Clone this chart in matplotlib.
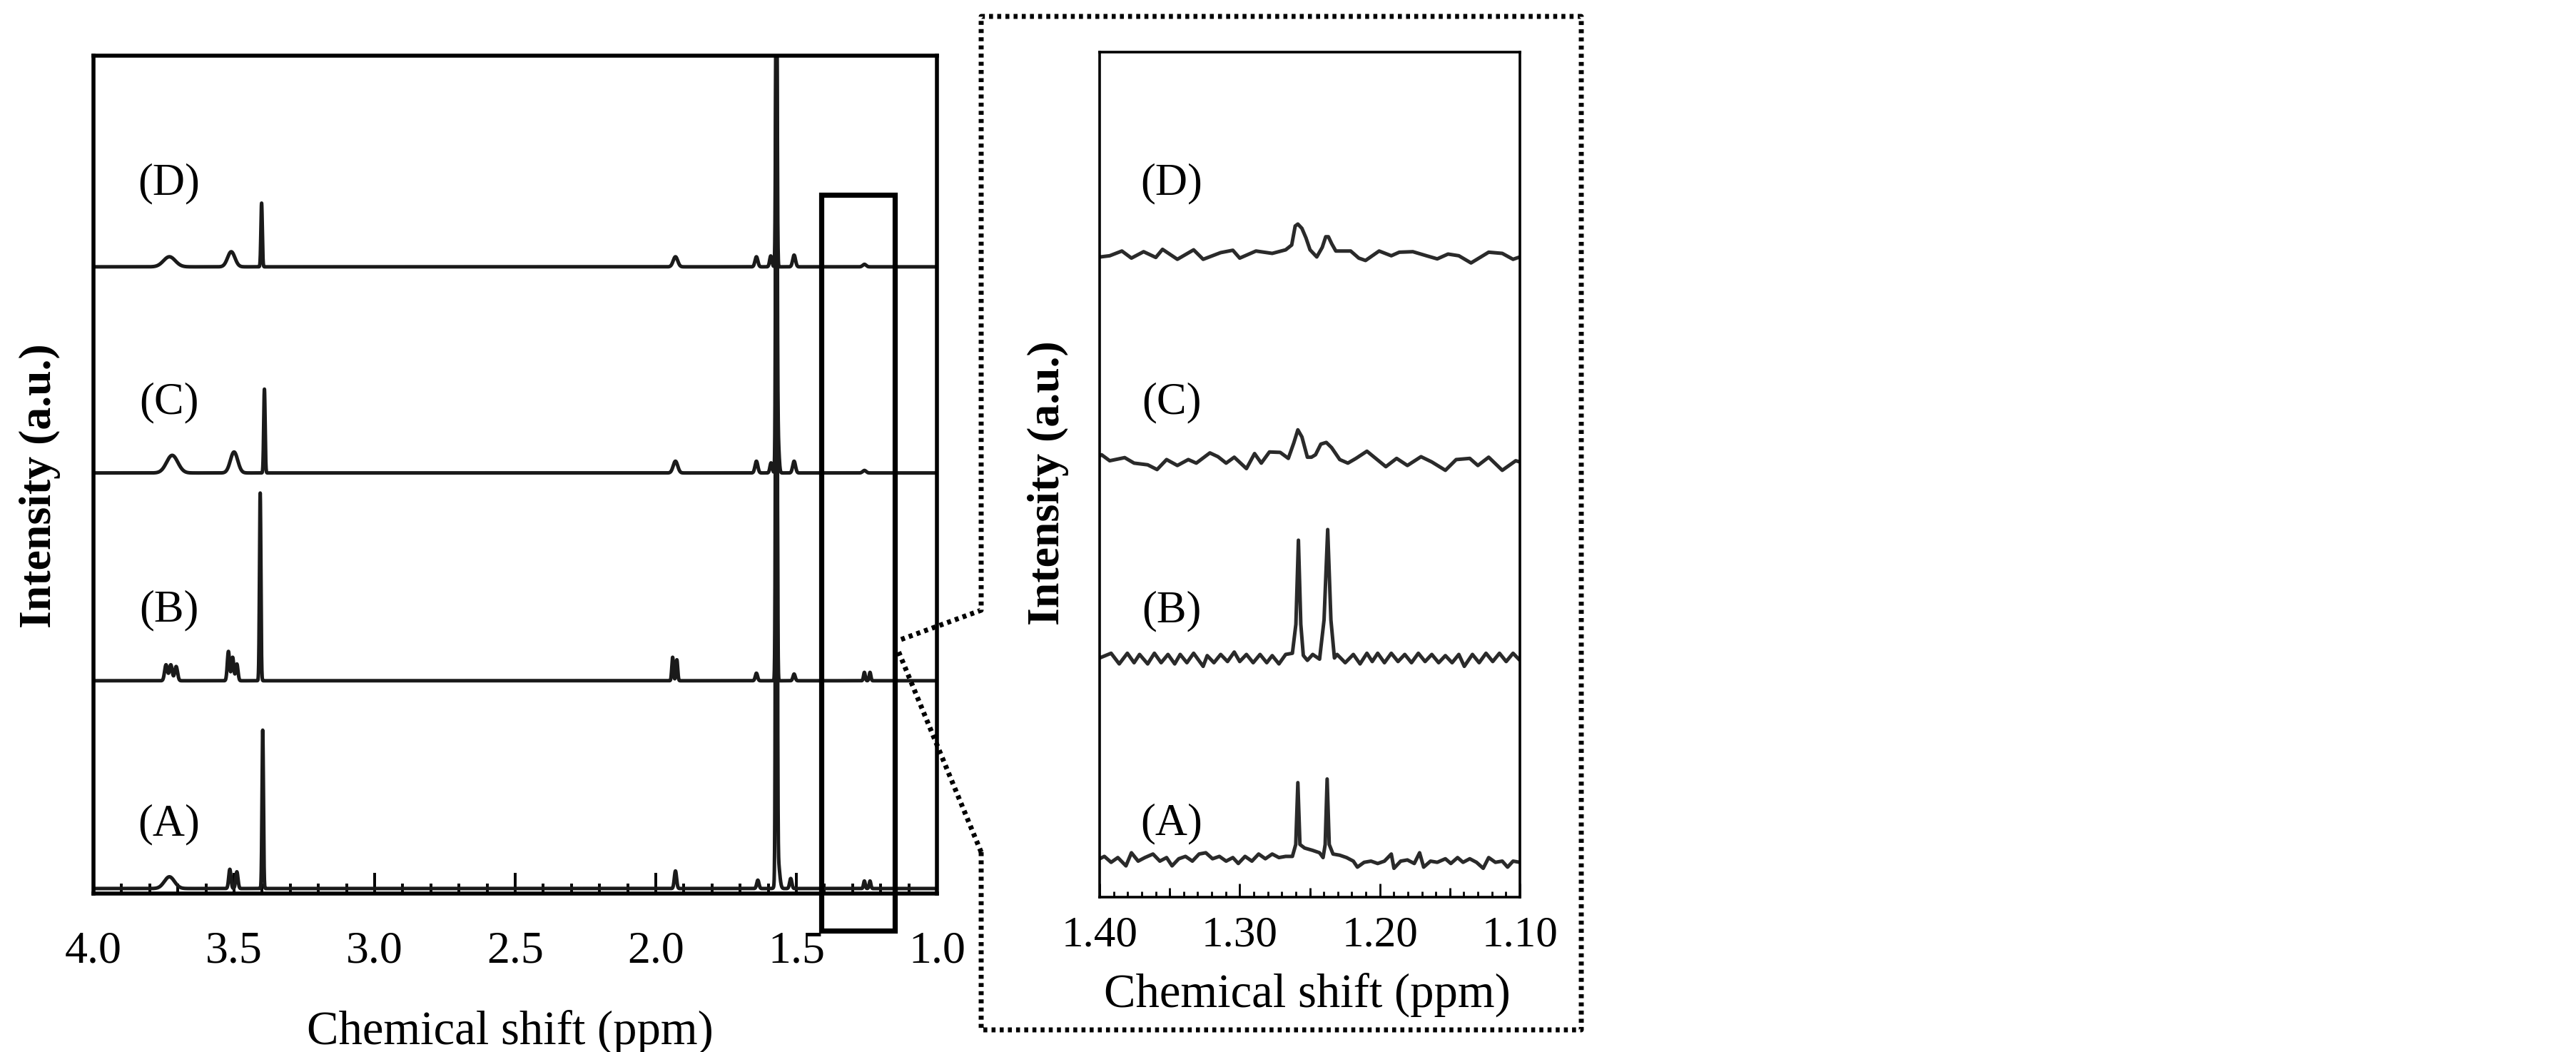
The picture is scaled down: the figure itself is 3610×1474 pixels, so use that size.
import numpy as np
import matplotlib
matplotlib.use("Agg")
import matplotlib.pyplot as plt
from matplotlib.lines import Line2D
from matplotlib.patches import Rectangle
from matplotlib.ticker import MultipleLocator, FixedLocator

plt.rcParams['font.family'] = ['Liberation Serif', 'DejaVu Serif']

W, H, DPI = 3610, 1474, 100

series_labels = ["(A)", "(B)", "(C)", "(D)"]

# ---------------- full spectra (4.0 - 1.0 ppm): peak tables ----------------
# centre (ppm), height (a.u., axis 0-100), gaussian sigma (ppm)
A_full_ppm = [3.73, 3.515, 3.49, 3.398, 1.93, 1.637, 1.566, 1.571, 1.52, 1.258, 1.238]
A_full_height = [1.4, 2.3, 2.0, 18.9, 2.1, 1.0, 3.5, 110.0, 1.2, 0.9, 0.9]
A_full_sigma = [0.018, 0.004, 0.004, 0.0025, 0.004, 0.004, 0.006, 0.0025, 0.004, 0.003, 0.003]

B_full_ppm = [3.742, 3.725, 3.706, 3.52, 3.505, 3.49, 3.407, 1.94, 1.925, 1.642, 1.571, 1.508, 1.258, 1.238]
B_full_height = [1.9, 1.9, 1.7, 3.5, 2.8, 2.0, 22.4, 2.8, 2.5, 0.9, 85.0, 0.8, 1.0, 1.0]
B_full_sigma = [0.005, 0.005, 0.005, 0.004, 0.004, 0.004, 0.0025, 0.003, 0.003, 0.004, 0.0025, 0.004, 0.003, 0.003]

C_full_ppm = [3.72, 3.50, 3.392, 1.93, 1.642, 1.59, 1.571, 1.566, 1.508, 1.258]
C_full_height = [2.1, 2.5, 10.0, 1.4, 1.4, 1.2, 60.0, 4.5, 1.4, 0.3]
C_full_sigma = [0.02, 0.013, 0.0025, 0.008, 0.005, 0.004, 0.0025, 0.004, 0.005, 0.006]

D_full_ppm = [3.73, 3.51, 3.402, 1.93, 1.642, 1.591, 1.571, 1.508, 1.258]
D_full_height = [1.2, 1.8, 7.6, 1.2, 1.2, 1.3, 40.0, 1.4, 0.3]
D_full_sigma = [0.021, 0.013, 0.0025, 0.008, 0.005, 0.004, 0.0025, 0.005, 0.006]

full_offsets = [0.6, 25.4, 50.2, 74.8]
full_ticks = [4.0, 3.5, 3.0, 2.5, 2.0, 1.5, 1.0]

A_zoom_ppm = [1.4000, 1.3966, 1.3918, 1.3870, 1.3812, 1.3773, 1.3725, 1.3677, 1.3619, 1.3570,
              1.3522, 1.3483, 1.3435, 1.3387, 1.3338, 1.3290, 1.3242, 1.3194, 1.3145, 1.3097,
              1.3049, 1.3010, 1.2962, 1.2913, 1.2865, 1.2817, 1.2768, 1.2720, 1.2672, 1.2624,
              1.2600, 1.2585, 1.2570, 1.2537, 1.2479, 1.2430, 1.2405, 1.2390, 1.2376, 1.2361,
              1.2334, 1.2286, 1.2237, 1.2189, 1.2160, 1.2112, 1.2063, 1.2015, 1.1967, 1.1918,
              1.1899, 1.1851, 1.1803, 1.1754, 1.1716, 1.1687, 1.1638, 1.1590, 1.1532, 1.1493,
              1.1445, 1.1406, 1.1358, 1.1310, 1.1262, 1.1223, 1.1175, 1.1126, 1.1088, 1.1049,
              1.1000]
A_zoom_int = [0.14, 0.42, -0.28, 0.28, -0.70, 0.85, -0.14, 0.28, 0.70, -0.14,
              0.28, -0.70, 0.14, 0.42, -0.14, 0.70, 0.85, 0.14, 0.42, -0.14,
              0.28, -0.42, 0.42, -0.14, 0.70, 0.14, 0.70, 0.28, 0.42, 0.42,
              1.83, 9.15, 1.83, 1.41, 1.13, 0.85, 0.28, 1.83, 9.58, 1.83,
              0.70, 0.56, 0.28, -0.14, -0.85, -0.28, -0.14, -0.42, -0.14, 0.70,
              -0.99, -0.14, 0.0, -0.42, 0.85, -0.85, -0.14, -0.28, 0.14, -0.42,
              0.28, -0.28, 0.14, -0.28, -0.99, 0.28, -0.28, -0.14, -0.85, -0.14,
              -0.28]

B_zoom_ppm = [1.4000, 1.3918, 1.3860, 1.3802, 1.3754, 1.3715, 1.3657, 1.3609, 1.3561, 1.3512,
              1.3464, 1.3425, 1.3377, 1.3329, 1.3261, 1.3232, 1.3184, 1.3136, 1.3087, 1.3039,
              1.3000, 1.2952, 1.2904, 1.2855, 1.2807, 1.2768, 1.2720, 1.2672, 1.2624, 1.2599,
              1.2581, 1.2564, 1.2546, 1.2517, 1.2479, 1.2430, 1.2398, 1.2372, 1.2349, 1.2324,
              1.2305, 1.2247, 1.2189, 1.2141, 1.2092, 1.2054, 1.2015, 1.1967, 1.1918, 1.1870,
              1.1822, 1.1774, 1.1725, 1.1677, 1.1629, 1.1580, 1.1532, 1.1484, 1.1436, 1.1397,
              1.1339, 1.1291, 1.1242, 1.1194, 1.1146, 1.1098, 1.1049, 1.1000]
B_zoom_int = [0.0, 0.56, -0.70, 0.56, -0.56, 0.42, -0.70, 0.56, -0.56, 0.42,
              -0.70, 0.42, -0.56, 0.56, -0.99, 0.28, -0.56, 0.42, -0.42, 0.70,
              -0.42, 0.42, -0.56, 0.42, -0.56, 0.28, -0.70, 0.42, 0.56, 4.0,
              13.94, 4.0, 0.30, -0.28, 0.42, -0.14, 4.5, 15.2, 4.5, 0.0,
              0.42, -0.56, 0.42, -0.70, 0.56, -0.42, 0.56, -0.56, 0.56, -0.42,
              0.42, -0.56, 0.56, -0.42, 0.42, -0.56, 0.28, -0.56, 0.42, -0.99,
              0.42, -0.56, 0.56, -0.42, 0.56, -0.42, 0.56, -0.28]

C_zoom_ppm = [1.4000, 1.3986, 1.3928, 1.3821, 1.3754, 1.3657, 1.3590, 1.3522, 1.3445, 1.3367,
              1.3310, 1.3213, 1.3155, 1.3097, 1.3039, 1.2952, 1.2894, 1.2846, 1.2788, 1.2711,
              1.2653, 1.2614, 1.2585, 1.2556, 1.2517, 1.2488, 1.2459, 1.2421, 1.2382, 1.2344,
              1.2286, 1.2228, 1.2170, 1.2092, 1.1957, 1.1880, 1.1803, 1.1706, 1.1629, 1.1532,
              1.1455, 1.1358, 1.1300, 1.1223, 1.1126, 1.1030, 1.1000]
C_zoom_int = [0.70, 0.85, 0.14, 0.51, -0.14, -0.34, -0.90, 0.28, -0.42, 0.28,
              -0.14, 1.07, 0.62, -0.14, 0.56, -0.79, 0.99, -0.14, 1.18, 1.13,
              0.42, 2.25, 3.80, 2.96, 0.56, 0.56, 0.85, 2.11, 2.31, 1.69,
              0.28, -0.14, 0.42, 1.27, -0.56, 0.42, -0.42, 0.62, 0.0, -0.99,
              0.28, 0.42, -0.42, 0.56, -0.99, 0.14, 0.0]

D_zoom_ppm = [1.4000, 1.3995, 1.3928, 1.3841, 1.3773, 1.3686, 1.3599, 1.3551, 1.3445, 1.3329,
              1.3261, 1.3136, 1.3049, 1.3000, 1.2884, 1.2768, 1.2672, 1.2629, 1.2604, 1.2585,
              1.2556, 1.2527, 1.2498, 1.2450, 1.2411, 1.2386, 1.2367, 1.2343, 1.2314, 1.2266,
              1.2208, 1.2150, 1.2102, 1.2005, 1.1918, 1.1861, 1.1764, 1.1667, 1.1590, 1.1513,
              1.1436, 1.1349, 1.1223, 1.1126, 1.1049, 1.1000]
D_zoom_int = [-0.10, -0.14, 0.0, 0.56, -0.28, 0.48, -0.20, 0.76, -0.42, 0.70,
              -0.42, 0.37, 0.65, -0.28, 0.56, 0.28, 0.70, 1.27, 3.52, 3.75,
              3.24, 2.11, 0.70, -0.14, 0.99, 2.25, 2.25, 1.41, 0.56, 0.56,
              0.56, -0.28, -0.56, 0.56, 0.0, 0.42, 0.48, 0.0, -0.37, 0.20,
              0.0, -0.85, 0.42, 0.28, -0.42, -0.14]

zoom_offsets = [4.4, 28.3, 51.5, 75.9]
zoom_ticks = [1.40, 1.30, 1.20, 1.10]
zoom_mid_ticks = [1.35, 1.25, 1.15]

# ---------------- figure ----------------
fig = plt.figure(figsize=(W / DPI, H / DPI), dpi=DPI)
line_color = '#1a1a1a'


def fax(left, top, right, bottom):
    return [left / W, 1 - bottom / H, (right - left) / W, (bottom - top) / H]


ax1 = fig.add_axes(fax(131, 78, 1313, 1252))
ax2 = fig.add_axes(fax(1541, 73, 2130, 1257))

grid = np.linspace(4.0, 1.0, 12001)
full_tables = [(A_full_ppm, A_full_height, A_full_sigma),
               (B_full_ppm, B_full_height, B_full_sigma),
               (C_full_ppm, C_full_height, C_full_sigma),
               (D_full_ppm, D_full_height, D_full_sigma)]
for (ppm, hgt, sig), off in zip(full_tables, full_offsets):
    y = np.full_like(grid, off)
    for c, h, s in zip(ppm, hgt, sig):
        y += h * np.exp(-0.5 * ((grid - c) / s) ** 2)
    ax1.plot(grid, y, color=line_color, lw=3.6, solid_joinstyle='round')

zoom_traces = [(A_zoom_ppm, A_zoom_int), (B_zoom_ppm, B_zoom_int),
               (C_zoom_ppm, C_zoom_int), (D_zoom_ppm, D_zoom_int)]
for (ppm, val), off in zip(zoom_traces, zoom_offsets):
    ax2.plot(ppm, np.array(val) + off, color='#2a2a2a', lw=3.6, solid_joinstyle='round')

# axes styling
for ax, lw in ((ax1, 4.0), (ax2, 2.6)):
    for sp in ax.spines.values():
        sp.set_linewidth(lw)
        sp.set_color('black')
    ax.set_ylim(0, 100)
    ax.set_yticks([])
    ax.tick_params(top=False, left=False, right=False)

ax1.set_xlim(4.0, 1.0)
ax1.set_xticks(full_ticks)
ax1.set_xticklabels([f"{t:.1f}" for t in full_ticks])
ax1.xaxis.set_minor_locator(MultipleLocator(0.1))
ax1.tick_params(axis='x', which='major', direction='in', length=21, width=2.8,
                pad=38, labelsize=46)
ax1.tick_params(axis='x', which='minor', direction='in', length=10, width=2.8)

ax2.set_xlim(1.40, 1.10)
ax2.set_xticks(zoom_ticks)
ax2.set_xticklabels([f"{t:.2f}" for t in zoom_ticks])
ax2.xaxis.set_minor_locator(MultipleLocator(0.01))
ax2.tick_params(axis='x', which='major', direction='in', length=14, width=2.0,
                pad=19, labelsize=44)
ax2.tick_params(axis='x', which='minor', direction='in', length=6, width=2.0)
sec = ax2.secondary_xaxis('bottom')
sec.xaxis.set_major_locator(FixedLocator(zoom_mid_ticks))
sec.tick_params(axis='x', direction='in', length=9.5, width=2.0, labelbottom=False)
sec.spines['bottom'].set_visible(False)

# series labels
lab_y = [0.082, 0.338, 0.586, 0.847]
for lab, yy in zip(series_labels, lab_y):
    ax1.text(0.0897, yy, lab, transform=ax1.transAxes, ha='center', va='center', fontsize=45)
lab_y2 = [0.087, 0.338, 0.585, 0.844]
for lab, yy in zip(series_labels, lab_y2):
    ax2.text(0.171, yy, lab, transform=ax2.transAxes, ha='center', va='center', fontsize=45)

# axis titles
fig.text(715 / W, 1 - 1446 / H, "Chemical shift (ppm)", ha='center', va='center', fontsize=48)
fig.text(1832 / W, 1 - 1394 / H, "Chemical shift (ppm)", ha='center', va='center', fontsize=48)
fig.text(56 / W, 1 - 681 / H, "Intensity (a.u.)", rotation=90, ha='center', va='center',
         fontsize=46, fontweight='bold')
fig.text(1469 / W, 1 - 677 / H, "Intensity (a.u.)", rotation=90, ha='center', va='center',
         fontsize=46, fontweight='bold')

# expansion window in the full spectrum
ax1.add_patch(Rectangle((1.15, -4.43), 0.26, 83.4 + 4.43, fill=False, lw=5.2,
                        ec='black', clip_on=False, zorder=5))

# dotted callout frame
def fpts(pts):
    return [p[0] / W for p in pts], [1 - p[1] / H for p in pts]

dot_style = dict(color='black', lw=5.0, linestyle=(0, (0.8, 0.85)), dash_capstyle='butt')
xs, ys = fpts([(1375, 1194), (1375, 1443), (2216, 1443), (2216, 23), (1375, 23),
               (1375, 855), (1260, 897)])
fig.add_artist(Line2D(xs, ys, transform=fig.transFigure, **dot_style))
xs, ys = fpts([(1375, 1194), (1258, 910)])
fig.add_artist(Line2D(xs, ys, transform=fig.transFigure, **dot_style))

fig.savefig("out.png", dpi=DPI, facecolor='white')
